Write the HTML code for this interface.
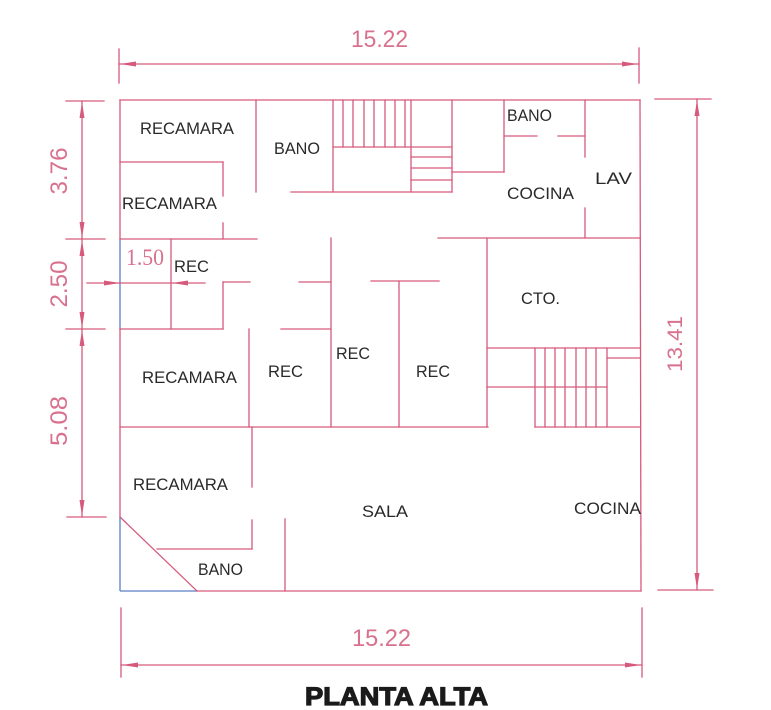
<!DOCTYPE html>
<html>
<head>
<meta charset="utf-8">
<style>
  html, body { margin: 0; padding: 0; background: #ffffff; }
  body { width: 771px; height: 710px; overflow: hidden; }
  svg { display: block; }
  .w { stroke: #d65a7c; stroke-width: 1.3; fill: none; stroke-linecap: square; }
  .b { stroke: #5a7fc8; stroke-width: 1.3; fill: none; }
  .ar { fill: #d65a7c; stroke: none; }
  .lbl { font-family: "Liberation Sans", sans-serif; font-size: 17px; fill: #2a2a2a; }
  .dim { font-family: "Liberation Sans", sans-serif; font-size: 24px; fill: #d8718e; }
  .dims { font-family: "Liberation Serif", serif; font-size: 23px; fill: #d8718e; }
  .title { font-family: "Liberation Sans", sans-serif; font-weight: bold; font-size: 25px; fill: #1a1a1a; stroke: #1a1a1a; stroke-width: 1.2; }
</style>
</head>
<body>
<svg width="771" height="710" viewBox="0 0 771 710" xmlns="http://www.w3.org/2000/svg">

  <!-- ===== Outer walls ===== -->
  <line class="w" x1="120" y1="100" x2="640" y2="100"/>
  <line class="w" x1="120" y1="100" x2="120" y2="239"/>
  <line class="b" x1="120" y1="239" x2="120" y2="329"/>
  <line class="w" x1="120" y1="329" x2="120" y2="517"/>
  <line class="b" x1="120" y1="517" x2="120" y2="591"/>
  <line class="b" x1="120" y1="591" x2="197" y2="591"/>
  <line class="w" x1="197" y1="591" x2="641" y2="591"/>
  <line class="w" x1="640" y1="100" x2="641" y2="591"/>

  <!-- ===== Top zone ===== -->
  <line class="w" x1="256" y1="100" x2="256" y2="192"/>
  <line class="w" x1="333" y1="100" x2="333" y2="192"/>
  <line class="w" x1="343" y1="100" x2="343" y2="147"/>
  <line class="w" x1="353" y1="100" x2="353" y2="147"/>
  <line class="w" x1="364" y1="100" x2="364" y2="147"/>
  <line class="w" x1="374" y1="100" x2="374" y2="147"/>
  <line class="w" x1="385" y1="100" x2="385" y2="147"/>
  <line class="w" x1="395" y1="100" x2="395" y2="147"/>
  <line class="w" x1="405" y1="100" x2="405" y2="147"/>
  <line class="w" x1="411" y1="100" x2="411" y2="192"/>
  <line class="w" x1="333" y1="147" x2="452" y2="147"/>
  <line class="w" x1="411" y1="157" x2="452" y2="157"/>
  <line class="w" x1="411" y1="168" x2="452" y2="168"/>
  <line class="w" x1="411" y1="180" x2="452" y2="180"/>
  <line class="w" x1="291" y1="192" x2="452" y2="192"/>
  <line class="w" x1="452" y1="100" x2="452" y2="192"/>
  <line class="w" x1="452" y1="172" x2="504" y2="172"/>
  <line class="w" x1="504" y1="100" x2="504" y2="172"/>
  <line class="w" x1="504" y1="136" x2="537" y2="136"/>
  <line class="w" x1="558" y1="136" x2="585" y2="136"/>
  <line class="w" x1="585" y1="100" x2="585" y2="157"/>
  <line class="w" x1="585" y1="208" x2="585" y2="238"/>
  <line class="w" x1="438" y1="238" x2="640" y2="238"/>

  <!-- recamara boxes top-left -->
  <line class="w" x1="120" y1="162" x2="223" y2="162"/>
  <line class="w" x1="223" y1="162" x2="223" y2="196"/>
  <line class="w" x1="223" y1="223" x2="223" y2="239"/>
  <line class="w" x1="120" y1="239" x2="257" y2="239"/>

  <!-- ===== Middle zone ===== -->
  <line class="w" x1="171" y1="239" x2="171" y2="329"/>
  <line class="w" x1="120" y1="329" x2="223" y2="329"/>
  <line class="w" x1="223" y1="282" x2="223" y2="329"/>
  <line class="w" x1="223" y1="282" x2="250" y2="282"/>
  <line class="w" x1="299" y1="282" x2="331" y2="282"/>
  <line class="w" x1="331" y1="238" x2="331" y2="427"/>
  <line class="w" x1="281" y1="329" x2="331" y2="329"/>
  <line class="w" x1="249" y1="329" x2="249" y2="427"/>
  <line class="w" x1="371" y1="281" x2="439" y2="281"/>
  <line class="w" x1="399" y1="281" x2="399" y2="427"/>
  <line class="w" x1="487" y1="238" x2="487" y2="427"/>

  <!-- stair lower right -->
  <line class="w" x1="487" y1="348" x2="640" y2="348"/>
  <line class="w" x1="487" y1="387" x2="607" y2="387"/>
  <line class="w" x1="535" y1="348" x2="535" y2="427"/>
  <line class="w" x1="545" y1="348" x2="545" y2="427"/>
  <line class="w" x1="555" y1="348" x2="555" y2="427"/>
  <line class="w" x1="565" y1="348" x2="565" y2="427"/>
  <line class="w" x1="576" y1="348" x2="576" y2="427"/>
  <line class="w" x1="586" y1="348" x2="586" y2="427"/>
  <line class="w" x1="596" y1="348" x2="596" y2="427"/>
  <line class="w" x1="607" y1="348" x2="607" y2="427"/>
  <line class="w" x1="607" y1="358" x2="640" y2="358"/>

  <line class="w" x1="120" y1="427" x2="488" y2="427"/>
  <line class="w" x1="535" y1="427" x2="640" y2="427"/>

  <!-- ===== Bottom zone ===== -->
  <line class="w" x1="252" y1="427" x2="252" y2="487"/>
  <line class="w" x1="252" y1="520" x2="252" y2="549"/>
  <line class="w" x1="157" y1="549" x2="252" y2="549"/>
  <line class="w" x1="120" y1="517" x2="197" y2="591"/>
  <line class="w" x1="285" y1="519" x2="285" y2="591"/>

  <!-- ===== Dimensions ===== -->
  <!-- top -->
  <line class="w" x1="119" y1="49" x2="119" y2="83"/>
  <line class="w" x1="639" y1="48" x2="639" y2="83"/>
  <line class="w" x1="119" y1="64" x2="639" y2="64"/>
  <polygon class="ar" points="120,64 136,61.5 136,66.5"/>
  <polygon class="ar" points="638,64 622,61.5 622,66.5"/>
  <text class="dim" x="351" y="47" textLength="57" lengthAdjust="spacingAndGlyphs">15.22</text>

  <!-- bottom -->
  <line class="w" x1="121" y1="608" x2="121" y2="677"/>
  <line class="w" x1="642" y1="608" x2="642" y2="677"/>
  <line class="w" x1="121" y1="665" x2="642" y2="665"/>
  <polygon class="ar" points="122,665 138,662.5 138,667.5"/>
  <polygon class="ar" points="641,665 625,662.5 625,667.5"/>
  <text class="dim" x="352" y="646" textLength="59" lengthAdjust="spacingAndGlyphs">15.22</text>

  <!-- right -->
  <line class="w" x1="655" y1="99" x2="711" y2="99"/>
  <line class="w" x1="658" y1="590" x2="713" y2="590"/>
  <line class="w" x1="697" y1="99" x2="697" y2="590"/>
  <polygon class="ar" points="697,100 694.5,116 699.5,116"/>
  <polygon class="ar" points="697,589 694.5,573 699.5,573"/>
  <text class="dim" x="682" y="344" text-anchor="middle" transform="rotate(-90 682 344)" textLength="56" lengthAdjust="spacingAndGlyphs" style="font-size:21px">13.41</text>

  <!-- left -->
  <line class="w" x1="66" y1="101" x2="104" y2="101"/>
  <line class="w" x1="66" y1="239" x2="105" y2="239"/>
  <line class="w" x1="66" y1="329" x2="105" y2="329"/>
  <line class="w" x1="67" y1="517" x2="106" y2="517"/>
  <line class="w" x1="82" y1="101" x2="82" y2="517"/>
  <polygon class="ar" points="82,102 79.5,118 84.5,118"/>
  <polygon class="ar" points="82,238 79.5,222 84.5,222"/>
  <polygon class="ar" points="82,240 79.5,256 84.5,256"/>
  <polygon class="ar" points="82,328 79.5,312 84.5,312"/>
  <polygon class="ar" points="82,330 79.5,346 84.5,346"/>
  <polygon class="ar" points="82,516 79.5,500 84.5,500"/>
  <text class="dim" x="67" y="171" text-anchor="middle" transform="rotate(-90 67 171)" textLength="47" lengthAdjust="spacingAndGlyphs">3.76</text>
  <text class="dim" x="67" y="284" text-anchor="middle" transform="rotate(-90 67 284)" textLength="47" lengthAdjust="spacingAndGlyphs">2.50</text>
  <text class="dim" x="67" y="421" text-anchor="middle" transform="rotate(-90 67 421)" textLength="50" lengthAdjust="spacingAndGlyphs">5.08</text>

  <!-- 1.50 small dim -->
  <line class="w" x1="87" y1="283" x2="205" y2="283"/>
  <polygon class="ar" points="120,283 104,280.5 104,285.5"/>
  <polygon class="ar" points="172,283 188,280.5 188,285.5"/>
  <text class="dims" x="126" y="265" textLength="38" lengthAdjust="spacingAndGlyphs">1.50</text>

  <!-- ===== Room labels ===== -->
  <text class="lbl" x="140" y="134" textLength="94" lengthAdjust="spacingAndGlyphs">RECAMARA</text>
  <text class="lbl" x="274" y="154" textLength="46" lengthAdjust="spacingAndGlyphs">BANO</text>
  <text class="lbl" x="122" y="209" textLength="95" lengthAdjust="spacingAndGlyphs">RECAMARA</text>
  <text class="lbl" x="507" y="121" textLength="45" lengthAdjust="spacingAndGlyphs">BANO</text>
  <text class="lbl" x="507" y="199" textLength="67" lengthAdjust="spacingAndGlyphs">COCINA</text>
  <text class="lbl" x="595" y="184" textLength="37" lengthAdjust="spacingAndGlyphs">LAV</text>
  <text class="lbl" x="174" y="272" textLength="35" lengthAdjust="spacingAndGlyphs">REC</text>
  <text class="lbl" x="521" y="304" textLength="39" lengthAdjust="spacingAndGlyphs">CTO.</text>
  <text class="lbl" x="142" y="383" textLength="95" lengthAdjust="spacingAndGlyphs">RECAMARA</text>
  <text class="lbl" x="268" y="377" textLength="35" lengthAdjust="spacingAndGlyphs">REC</text>
  <text class="lbl" x="336" y="359" textLength="34" lengthAdjust="spacingAndGlyphs">REC</text>
  <text class="lbl" x="416" y="377" textLength="34" lengthAdjust="spacingAndGlyphs">REC</text>
  <text class="lbl" x="133" y="490" textLength="95" lengthAdjust="spacingAndGlyphs">RECAMARA</text>
  <text class="lbl" x="362" y="517" textLength="46" lengthAdjust="spacingAndGlyphs">SALA</text>
  <text class="lbl" x="574" y="514" textLength="67" lengthAdjust="spacingAndGlyphs">COCINA</text>
  <text class="lbl" x="198" y="575" textLength="45" lengthAdjust="spacingAndGlyphs">BANO</text>

  <!-- ===== Title ===== -->
  <text class="title" x="305" y="705" textLength="183" lengthAdjust="spacingAndGlyphs">PLANTA ALTA</text>
</svg>
</body>
</html>
